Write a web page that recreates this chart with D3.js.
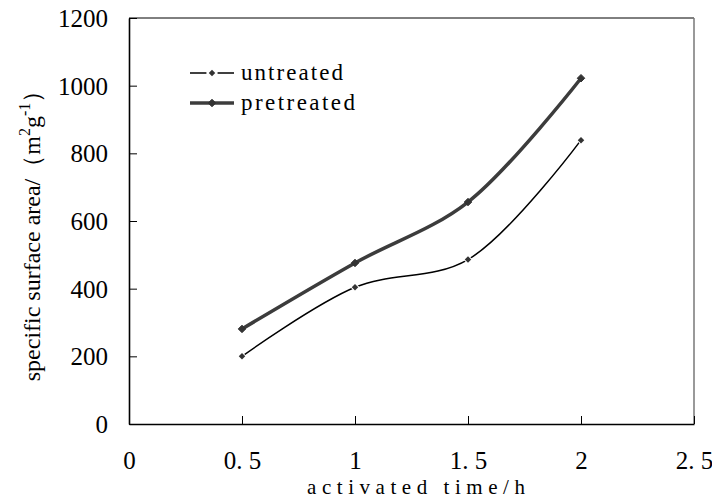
<!DOCTYPE html>
<html>
<head>
<meta charset="utf-8">
<script src="https://cdn.jsdelivr.net/npm/d3@7"></script>
<style>
  body { margin: 0; background: #fff; }
  svg { display: block; }
</style>
</head>
<body>
<svg width="712" height="498"></svg>
<script>
// activated time (h)
const times = [0.5, 1, 1.5, 2];
// specific surface area (m2/g)
const untreated = [200, 404, 486, 839];
const pretreated = [281, 476, 656, 1022];

const xTicks = [0, 0.5, 1, 1.5, 2, 2.5];
const xTickLabels = ["0", "0. 5", "1", "1. 5", "2", "2. 5"];
const yTicks = [0, 200, 400, 600, 800, 1000, 1200];

const serif = "\"Liberation Serif\"";

const svg = d3.select("svg");
const margin = { top: 18, right: 18, bottom: 74, left: 129 };
const width = +svg.attr("width");
const height = +svg.attr("height");

const x = d3.scaleLinear().domain([0, 2.5]).range([margin.left, width - margin.right]);
const y = d3.scaleLinear().domain([0, 1200]).range([height - margin.bottom, margin.top]);

// frame: top and right
svg.append("line")
    .attr("x1", x(0)).attr("x2", x(2.5))
    .attr("y1", y(1200)).attr("y2", y(1200))
    .attr("stroke", "#000").attr("stroke-width", 1);
svg.append("line")
    .attr("x1", x(2.5)).attr("x2", x(2.5))
    .attr("y1", y(1200)).attr("y2", y(0))
    .attr("stroke", "#777").attr("stroke-width", 1.5);

// x axis
const xAxis = svg.append("g")
    .attr("transform", `translate(0,${y(0)})`)
    .call(d3.axisBottom(x).tickValues(xTicks)
        .tickFormat((d, i) => xTickLabels[i])
        .tickSizeInner(-8).tickSizeOuter(0));
xAxis.attr("font-family", null);
xAxis.select(".domain").attr("stroke", "#000").attr("stroke-width", 1.6);
xAxis.selectAll(".tick line").attr("stroke", "#000").attr("stroke-width", 1);
xAxis.selectAll(".tick text")
    .attr("dy", 0).attr("y", 45).attr("fill", "#000")
    .style("font-family", serif).style("font-size", "25px")
    .style("white-space", "pre");

// y axis
const yAxis = svg.append("g")
    .attr("transform", `translate(${x(0)},0)`)
    .call(d3.axisLeft(y).tickValues(yTicks).tickFormat(d3.format("d"))
        .tickSizeInner(-8).tickSizeOuter(0).tickPadding(21));
yAxis.attr("font-family", null);
yAxis.select(".domain").attr("stroke", "#000").attr("stroke-width", 1.6);
yAxis.selectAll(".tick line").attr("stroke", "#000").attr("stroke-width", 1);
yAxis.selectAll(".tick text")
    .attr("dy", "0.34em").attr("fill", "#000")
    .style("font-family", serif).style("font-size", "25px");

// axis titles
svg.append("text")
    .attr("x", 416).attr("y", 494)
    .attr("text-anchor", "middle")
    .style("font-family", serif).style("font-size", "21px")
    .attr("textLength", 218).attr("lengthAdjust", "spacing")
    .text("activated time/h");

const yTitle = svg.append("text")
    .attr("transform", "translate(40,230) rotate(-90)")
    .attr("text-anchor", "middle")
    .style("font-family", serif).style("font-size", "24px");
yTitle.append("tspan").text("specific surface area/（m");
yTitle.append("tspan").style("font-size", "16px").attr("dy", -10).text("2");
yTitle.append("tspan").attr("dy", 10).text("g");
yTitle.append("tspan").style("font-size", "16px").attr("dy", -10).text("-1");
yTitle.append("tspan").attr("dy", 10).text("）");

// lines
const line = d3.line()
    .x(d => x(d[0]))
    .y(d => y(d[1]))
    .curve(d3.curveCatmullRom.alpha(0.5));

const series = [
    { name: "untreated", values: untreated, stroke: "#000", width: 1.5, marker: 6.5, halo: 2 },
    { name: "pretreated", values: pretreated, stroke: "#3c3c3c", width: 3.5, marker: 7.5, halo: 0 }
];

const diamond = s => `M0,${-s / 2}L${s / 2},0L0,${s / 2}L${-s / 2},0Z`;

series.forEach(s => {
    const pts = times.map((t, i) => [t, s.values[i]]);
    svg.append("path")
        .attr("d", line(pts))
        .attr("fill", "none")
        .attr("stroke", s.stroke)
        .attr("stroke-width", s.width)
        .attr("stroke-linejoin", "round");
    svg.append("g").selectAll("path")
        .data(pts)
        .join("path")
        .attr("transform", d => `translate(${x(d[0])},${y(d[1])})`)
        .attr("d", diamond(s.marker))
        .attr("fill", "#333")
        .attr("stroke", s.halo ? "#fff" : "#333")
        .attr("stroke-width", s.halo ? s.halo : 1)
        .attr("paint-order", "stroke");
});

// legend
const legend = svg.append("g");
series.forEach((s, i) => {
    const ly = 73 + i * 30;
    legend.append("line")
        .attr("x1", 190).attr("x2", 234)
        .attr("y1", ly).attr("y2", ly)
        .attr("stroke", s.stroke).attr("stroke-width", s.width);
    legend.append("path")
        .attr("transform", `translate(212,${ly})`)
        .attr("d", diamond(s.marker))
        .attr("fill", "#333")
        .attr("stroke", s.halo ? "#fff" : "#333")
        .attr("stroke-width", s.halo ? s.halo + 2 : 1)
        .attr("paint-order", "stroke");
    legend.append("text")
        .attr("x", 241).attr("y", ly + 7)
        .style("font-family", serif).style("font-size", "23px")
        .attr("textLength", i === 0 ? 102 : 114).attr("lengthAdjust", "spacing")
        .text(s.name);
});
</script>
</body>
</html>
